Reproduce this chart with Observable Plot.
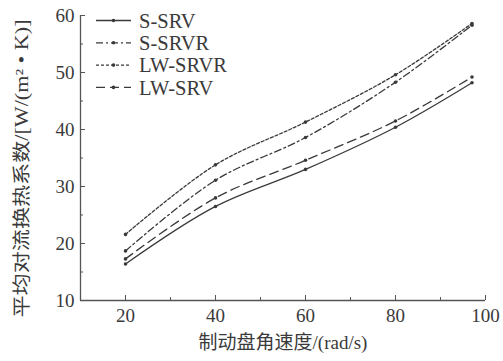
<!DOCTYPE html>
<html><head><meta charset="utf-8">
<script src="https://cdn.jsdelivr.net/npm/d3@7"></script>
<script src="https://cdn.jsdelivr.net/npm/@observablehq/plot@0.6"></script>
<style>
html,body{margin:0;padding:0;background:#fff;}
#wrap{position:relative;width:503px;height:361px;}
#legend{position:absolute;left:0;top:0;}
</style>
</head><body><div id="wrap"></div>
<script>
const speeds = [20, 40, 60, 80, 97];
const seriesNames = ["S-SRV", "S-SRVR", "LW-SRVR", "LW-SRV"];
const sSRV   = [16.4, 26.5, 33.0, 40.4, 48.2];
const sSRVR  = [18.7, 31.1, 38.6, 48.3, 58.3];
const lwSRVR = [21.6, 33.8, 41.3, 49.6, 58.6];
const lwSRV  = [17.3, 28.0, 34.6, 41.5, 49.2];
const xMajor = [20, 40, 60, 80, 100];
const xMinor = [30, 50, 70, 90];
const yMajor = [10, 20, 30, 40, 50, 60];
const yMinor = [15, 25, 35, 45, 55];
const xLabel = "制动盘角速度/(rad/s)";
const yLabel = "平均对流换热系数/[W/(m² • K)]";

const valuesBySeries = [sSRV, sSRVR, lwSRVR, lwSRV];
const dashes = {"S-SRV": null, "S-SRVR": "7,3,2,3", "LW-SRVR": "3,2", "LW-SRV": "9,5"};
const data = [];
seriesNames.forEach((s, k) => speeds.forEach((x, i) => data.push({series: s, x, y: valuesBySeries[k][i]})));

const font = "'Liberation Serif','Times New Roman','Noto Sans CJK SC',serif";
const ink = "#3a3a3a";

const marks = [];
for (const s of seriesNames) {
  const d = data.filter(r => r.series === s);
  marks.push(Plot.line(d, {x: "x", y: "y", curve: "catmull-rom", stroke: ink, strokeWidth: 1.3, strokeDasharray: dashes[s]}));
  marks.push(Plot.dot(d, {x: "x", y: "y", r: 1.8, fill: ink, stroke: "none"}));
}
// axis lines
marks.push(Plot.ruleY([10], {x1: 10, x2: 100, stroke: "#555", strokeWidth: 1.3}));
marks.push(Plot.ruleX([10], {y1: 10, y2: 60, stroke: "#555", strokeWidth: 1.3}));
// inward ticks
marks.push(Plot.ruleX(xMajor, {y1: 10, y2: 10, insetTop: -5, stroke: "#555"}));
marks.push(Plot.ruleX(xMinor, {y1: 10, y2: 10, insetTop: -3, stroke: "#555"}));
marks.push(Plot.ruleY(yMajor, {x1: 10, x2: 10, insetRight: -5, stroke: "#555"}));
marks.push(Plot.ruleY(yMinor, {x1: 10, x2: 10, insetRight: -3, stroke: "#555"}));
// tick labels
marks.push(Plot.axisX(xMajor, {tickSize: 0, tickPadding: 8, fontSize: 19, fontFamily: font, fill: ink, label: null}));
marks.push(Plot.axisY(yMajor, {tickSize: 0, tickPadding: 6, fontSize: 19, fontFamily: font, fill: ink, label: null}));
// axis titles
marks.push(Plot.text([xLabel], {frameAnchor: "bottom", lineAnchor: "middle", dy: 42, fontSize: 19, fontFamily: font, fill: ink, text: d => d}));
marks.push(Plot.text([yLabel], {frameAnchor: "left", textAnchor: "middle", lineAnchor: "middle", dx: -58, dy: 10.5, rotate: -90, fontSize: 18, fontFamily: font, fill: ink, text: d => d, className: "ylab"}));

const chart = Plot.plot({
  width: 503, height: 361,
  marginLeft: 80, marginRight: 18, marginTop: 15, marginBottom: 61,
  x: {domain: [10, 100], axis: null},
  y: {domain: [10, 60], axis: null},
  style: {background: "#fff", overflow: "visible"},
  marks
});
// stretch the y title to the reference's length
chart.querySelectorAll(".ylab text").forEach(t => {
  t.setAttribute("textLength", 298);
  t.setAttribute("lengthAdjust", "spacingAndGlyphs");
});
document.getElementById("wrap").appendChild(chart);

// legend overlay
const ns = "http://www.w3.org/2000/svg";
const lg = document.createElementNS(ns, "svg");
lg.setAttribute("id", "legend");
lg.setAttribute("width", 503); lg.setAttribute("height", 361);
seriesNames.forEach((s, i) => {
  const y = 20.5 + i * 22.3;
  const l = document.createElementNS(ns, "line");
  l.setAttribute("x1", 96); l.setAttribute("x2", 131); l.setAttribute("y1", y); l.setAttribute("y2", y);
  l.setAttribute("stroke", ink); l.setAttribute("stroke-width", 1.3);
  if (dashes[s]) l.setAttribute("stroke-dasharray", dashes[s]);
  lg.appendChild(l);
  const c = document.createElementNS(ns, "circle");
  c.setAttribute("cx", 113.5); c.setAttribute("cy", y); c.setAttribute("r", 1.8); c.setAttribute("fill", ink);
  lg.appendChild(c);
  const t = document.createElementNS(ns, "text");
  t.setAttribute("x", 139); t.setAttribute("y", y); t.setAttribute("dy", "0.35em");
  t.setAttribute("font-family", font); t.setAttribute("font-size", 20.5); t.setAttribute("fill", ink);
  t.textContent = s;
  lg.appendChild(t);
});
document.getElementById("wrap").appendChild(lg);
</script></body></html>
